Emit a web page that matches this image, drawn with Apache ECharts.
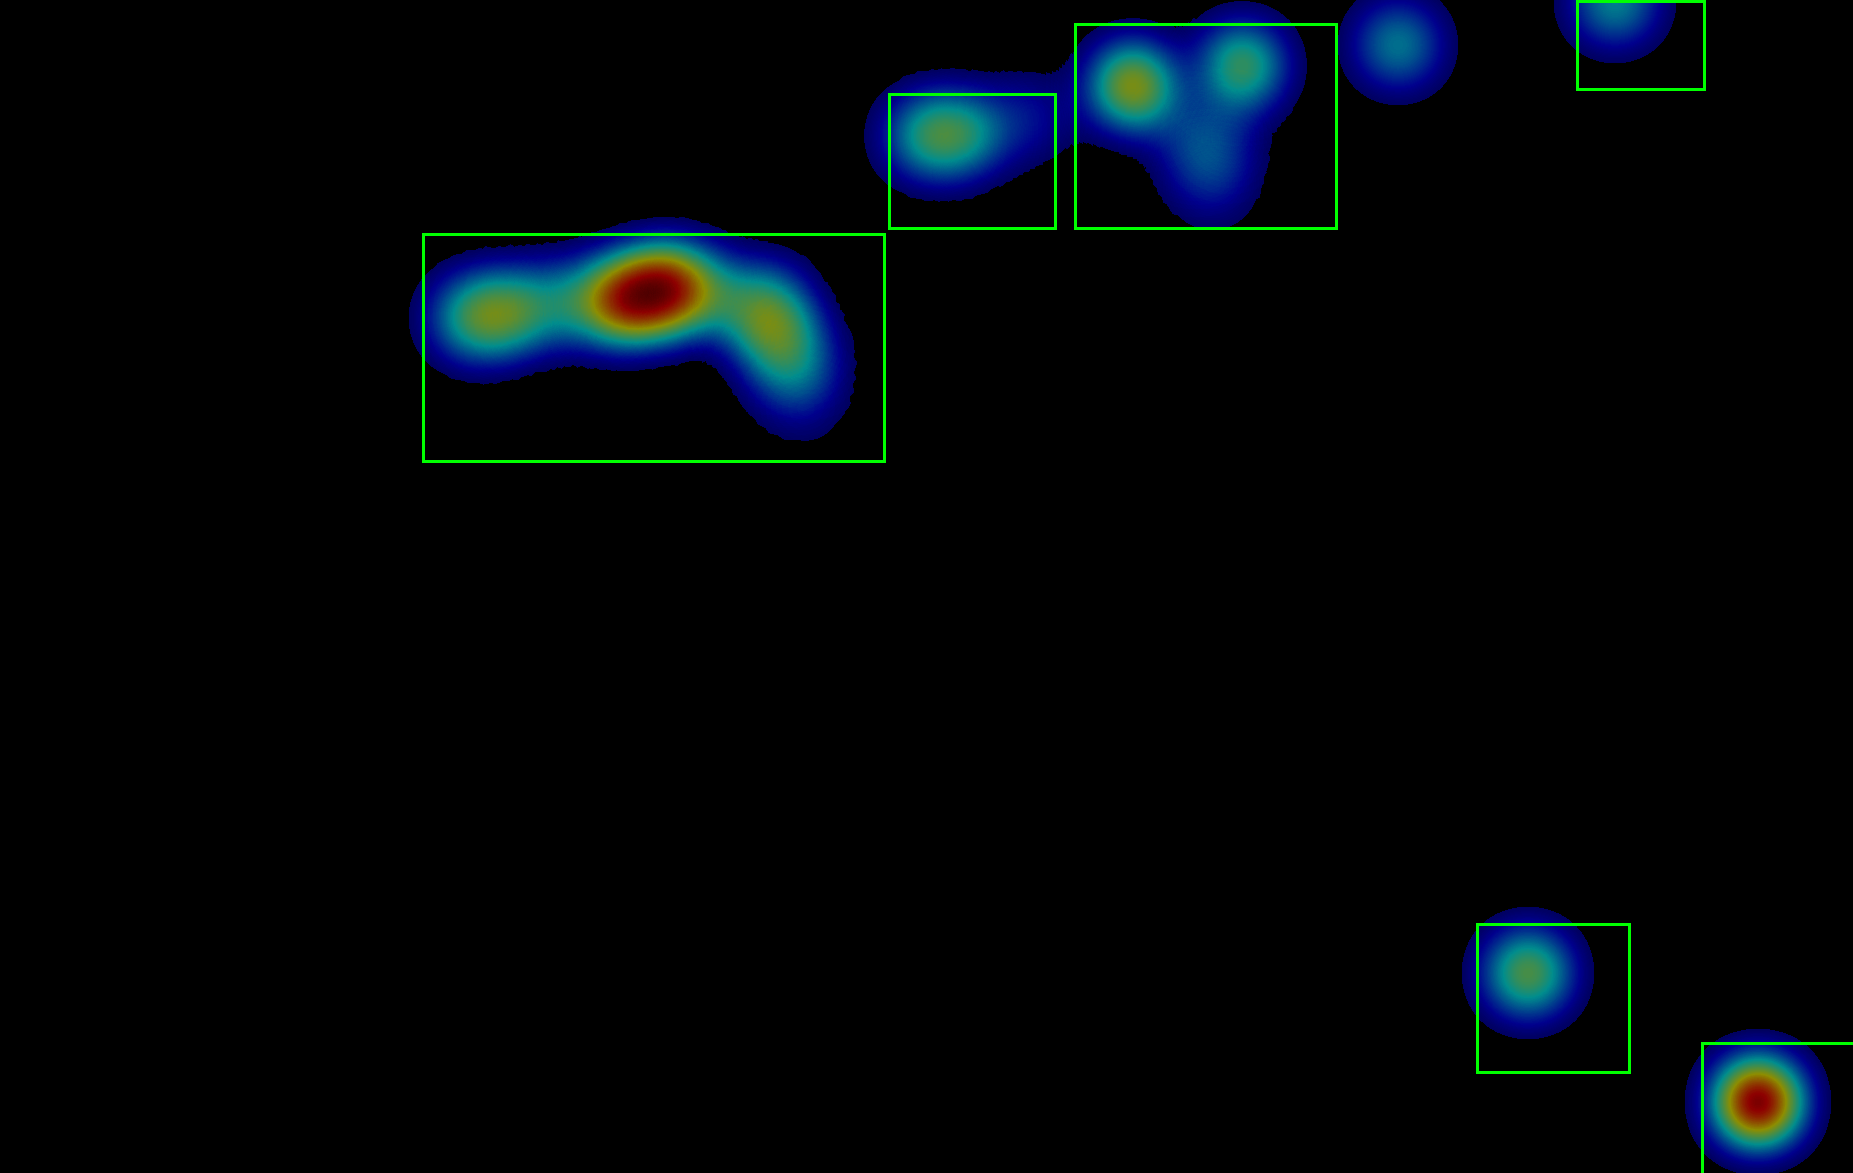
<!DOCTYPE html>
<html>
<head>
<meta charset="utf-8">
<script src="https://cdn.jsdelivr.net/npm/echarts@6/dist/echarts.min.js"></script>
<style>
html,body{margin:0;padding:0;background:#000;}
#chart{width:1853px;height:1173px;}
</style>
</head>
<body>
<div id="chart"></div>
<script>
// Image plane size (pixels of the picture)
const PLANE_W = 1853;
const PLANE_H = 1173;

// Heat points: x, y (image pixels, y downward) and intensity
const HEAT_X = [470, 505, 540, 585, 628, 664, 700, 763, 773, 790, 805, 808,
                925, 965, 1030,
                1133, 1242, 1195, 1212, 1228,
                1398, 1615, 1528, 1758];
const HEAT_Y = [318, 314, 305, 302, 300, 288, 292, 304, 333, 372, 405, 350,
                136, 134, 118,
                86, 66, 140, 183, 135,
                45, 2, 973, 1102];
const HEAT_V = [0.31, 0.31, 0.18, 0.24, 0.60, 0.60, 0.30, 0.31, 0.28, 0.19, 0.06, 0.08,
                0.30, 0.30, 0.12,
                0.53, 0.41, 0.15, 0.13, 0.07,
                0.29, 0.31, 0.45, 0.81];

// Detection boxes (image pixels)
const BOX_X1 = [423.5, 889.5, 1075.5, 1577.5, 1477.5, 1702.5];
const BOX_Y1 = [234.5, 94.5, 24.5, 1.5, 924.5, 1043.5];
const BOX_X2 = [884.5, 1055.5, 1336.5, 1704.5, 1629.5, 1880];
const BOX_Y2 = [461.5, 228.5, 228.5, 89.5, 1072.5, 1200];

// Jet colour scale (spread over the lower part of the accumulated-alpha range)
const JET = ['#000080', '#0000ff', '#0080ff', '#00ffff', '#80ff80', '#ffff00', '#ff8000', '#ff0000', '#800000'];
const SCALE_COLORS = JET.concat(new Array(5).fill('#800000'));

echarts.registerMap('plane', {
  type: 'FeatureCollection',
  features: [{
    type: 'Feature',
    properties: { name: 'plane' },
    geometry: {
      type: 'Polygon',
      coordinates: [[[0, 0], [PLANE_W, 0], [PLANE_W, -PLANE_H], [0, -PLANE_H], [0, 0]]]
    }
  }]
});

const chart = echarts.init(document.getElementById('chart'), null, { renderer: 'canvas' });

const heatData = HEAT_X.map((x, i) => [x, -HEAT_Y[i], HEAT_V[i]]);
const boxData = BOX_X1.map((x, i) => [x, -BOX_Y1[i], BOX_X2[i], -BOX_Y2[i]]);

chart.setOption({
  backgroundColor: '#000000',
  animation: false,
  geo: {
    map: 'plane',
    roam: false,
    silent: true,
    aspectScale: 1,
    left: 0, top: 0, right: 0, bottom: 0,
    label: { show: false },
    itemStyle: { areaColor: 'rgba(0,0,0,0)', borderWidth: 0, borderColor: 'rgba(0,0,0,0)' },
    emphasis: { disabled: true },
    select: { disabled: true }
  },
  visualMap: {
    type: 'continuous',
    show: false,
    min: 0,
    max: 1,
    range: [0.031, 1],
    seriesIndex: 0,
    inRange: { color: SCALE_COLORS },
    outOfRange: { color: ['rgba(0,0,0,0)'] }
  },
  series: [
    {
      type: 'heatmap',
      coordinateSystem: 'geo',
      data: heatData,
      pointSize: 37,
      blurSize: 50,
      minOpacity: 0.55,
      maxOpacity: 0.55,
      z: 2
    },
    {
      type: 'custom',
      coordinateSystem: 'geo',
      data: boxData,
      z: 5,
      silent: true,
      renderItem: function (params, api) {
        const p1 = api.coord([api.value(0), api.value(1)]);
        const p2 = api.coord([api.value(2), api.value(3)]);
        return {
          type: 'rect',
          shape: {
            x: Math.min(p1[0], p2[0]),
            y: Math.min(p1[1], p2[1]),
            width: Math.abs(p2[0] - p1[0]),
            height: Math.abs(p2[1] - p1[1])
          },
          style: { fill: 'none', stroke: '#00ff00', lineWidth: 3 }
        };
      }
    }
  ]
});
</script>
</body>
</html>
